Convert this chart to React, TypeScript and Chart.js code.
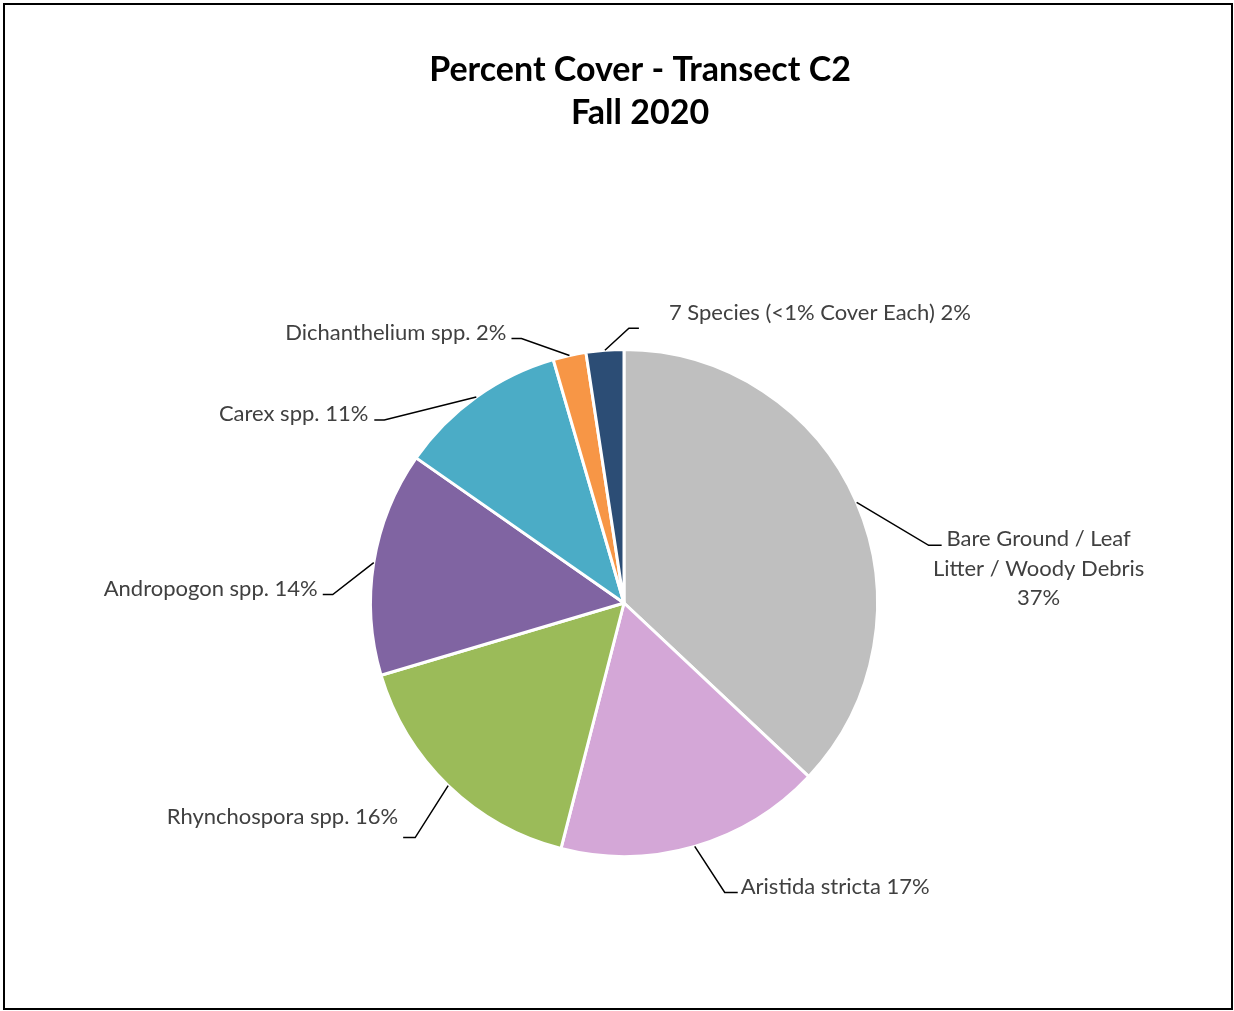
import React, { useEffect, useRef } from "react";
import { Chart, registerables } from "chart.js";

Chart.register(...registerables);

const categories = [
  "Bare Ground / Leaf Litter / Woody Debris",
  "Aristida stricta",
  "Rhynchospora spp.",
  "Andropogon spp.",
  "Carex spp.",
  "Dichanthelium spp.",
  "7 Species (<1% Cover Each)",
];
const coverValues = [37.0, 17.0, 16.4, 14.3, 10.8, 2.1, 2.4];
const sliceColors = ["#BFBFBF", "#D4A7D7", "#9BBB59", "#8064A2", "#4BACC6", "#F79646", "#2C4D75"];
const titleLines = ["Percent Cover - Transect C2", "Fall 2020"];

// leader / label layout, relative to the slice's outer mid point
const labelLayout = [
  { elbow: [72, 43], tail: 13, text: [97, -6], align: "center", wrap: 222 },
  { elbow: [30, 46], tail: 13, text: [3, -6], align: "left", wrap: 0 },
  { elbow: [-33, 52], tail: -12, text: [-5, -21], align: "right", wrap: 0 },
  { elbow: [-41, 32], tail: -10, text: [-5, -6], align: "right", wrap: 0 },
  { elbow: [-92, 23], tail: -10, text: [-6, -6], align: "right", wrap: 0 },
  { elbow: [-48, -17], tail: -10, text: [-5, -6], align: "right", wrap: 0 },
  { elbow: [24, -22], tail: 10, text: [30, -15], align: "left", wrap: 0 },
];

const LABEL_FONT = "22px Lato";
const TITLE_FONT = "bold 34px Lato";

function wrapText(ctx: CanvasRenderingContext2D, text: string, maxW: number): string[] {
  if (!maxW) return [text];
  const words = text.split(" ");
  const lines: string[] = [];
  let cur = "";
  for (const w of words) {
    const test = cur ? cur + " " + w : w;
    if (ctx.measureText(test).width > maxW && cur) {
      lines.push(cur);
      cur = w;
    } else cur = test;
  }
  if (cur) lines.push(cur);
  return lines;
}

const labelsPlugin = {
  id: "leaderLabels",
  afterDatasetsDraw(chart: any) {
    const ctx: CanvasRenderingContext2D = chart.ctx;
    const meta = chart.getDatasetMeta(0);
    const total = coverValues.reduce((a, b) => a + b, 0);
    ctx.save();
    meta.data.forEach((arc: any, i: number) => {
      const p = arc.getProps(["x", "y", "startAngle", "endAngle", "outerRadius"], true);
      const mid = (p.startAngle + p.endAngle) / 2;
      const sx = p.x + Math.cos(mid) * p.outerRadius;
      const sy = p.y + Math.sin(mid) * p.outerRadius;
      const L = labelLayout[i];
      const ex = sx + L.elbow[0];
      const ey = sy + L.elbow[1];
      const hx = ex + L.tail;
      ctx.strokeStyle = "#000000";
      ctx.lineWidth = 1.5;
      ctx.beginPath();
      ctx.moveTo(sx, sy);
      ctx.lineTo(ex, ey);
      ctx.lineTo(hx, ey);
      ctx.stroke();

      const pct = Math.round((coverValues[i] / total) * 100) + "%";
      ctx.font = LABEL_FONT;
      ctx.fillStyle = "#404040";
      ctx.textBaseline = "middle";
      ctx.textAlign = L.align as CanvasTextAlign;
      let lines: string[];
      if (L.wrap) {
        lines = wrapText(ctx, categories[i], L.wrap);
        lines.push(pct);
      } else {
        lines = [categories[i] + " " + pct];
      }
      const tx = hx + L.text[0];
      const ty = ey + L.text[1];
      lines.forEach((ln, k) => ctx.fillText(ln, tx, ty + k * 29.5));
    });
    ctx.restore();
  },
  afterDraw(chart: any) {
    const ctx: CanvasRenderingContext2D = chart.ctx;
    ctx.save();
    ctx.font = TITLE_FONT;
    ctx.fillStyle = "#000000";
    ctx.textAlign = "center";
    ctx.textBaseline = "alphabetic";
    ctx.fillText(titleLines[0], 640, 81);
    ctx.fillText(titleLines[1], 640, 124);
    ctx.restore();
  },
};

export default function App() {
  const ref = useRef<HTMLCanvasElement>(null);
  useEffect(() => {
    document.body.style.margin = "0";
    const chart = new Chart(ref.current as HTMLCanvasElement, {
      type: "pie",
      data: {
        labels: categories,
        datasets: [
          {
            data: coverValues,
            backgroundColor: sliceColors,
            borderColor: "#FFFFFF",
            borderWidth: 3,
          },
        ],
      },
      options: {
        responsive: false,
        animation: false,
        layout: { padding: { left: 369, right: 355, top: 348, bottom: 153 } },
        plugins: {
          legend: { display: false },
          tooltip: { enabled: false },
          title: { display: false },
        },
      },
      plugins: [labelsPlugin],
    });
    return () => chart.destroy();
  }, []);
  return (
    <div style={{ position: "absolute", left: 0, top: 0, width: 1234, height: 1011, background: "#fff" }}>
      <canvas ref={ref} width={1234} height={1011} style={{ position: "absolute", left: 0, top: 0 }} />
      <div
        style={{
          position: "absolute",
          left: 3,
          top: 3,
          width: 1226,
          height: 1003,
          border: "2px solid #000",
          pointerEvents: "none",
        }}
      />
    </div>
  );
}
